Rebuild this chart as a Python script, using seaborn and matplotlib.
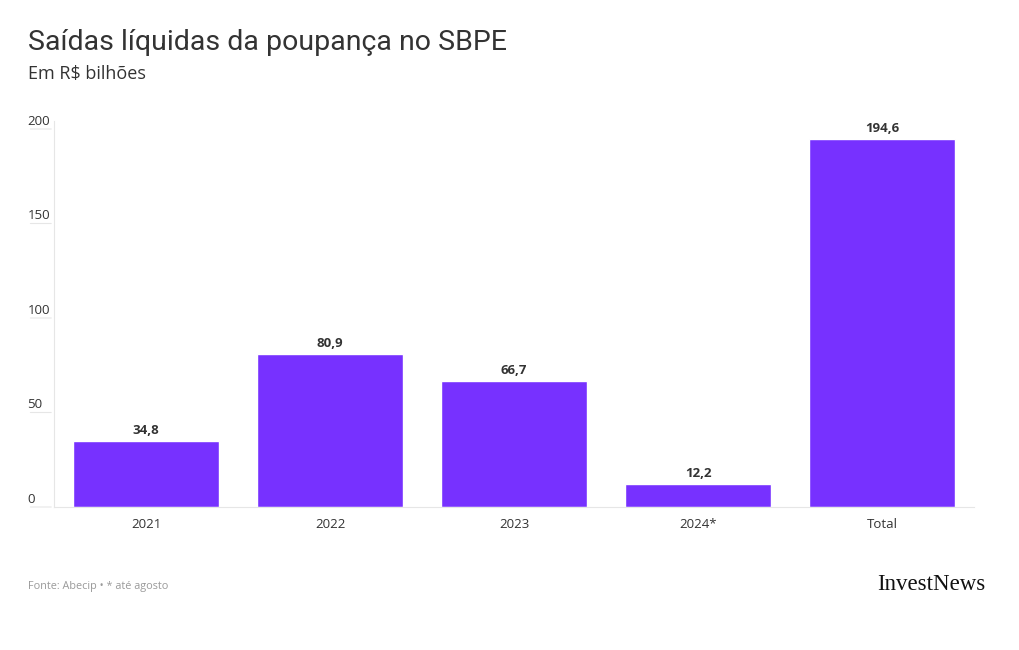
import numpy as np
import pandas as pd
import matplotlib
matplotlib.use("Agg")
import matplotlib.pyplot as plt
import seaborn as sns

# data
categories = ["2021", "2022", "2023", "2024*", "Total"]
values = [34.8, 80.9, 66.7, 12.2, 194.6]
value_labels = ["34,8", "80,9", "66,7", "12,2", "194,6"]
y_ticks = [0, 50, 100, 150, 200]

BAR = "#7731FF"
TEXT = "#333333"
GRID = "#e6e6e6"


def main():
    sns.set_theme(style="white")
    plt.rcParams["font.family"] = ["Open Sans", "DejaVu Sans"]

    df = pd.DataFrame({"cat": categories, "val": values})

    fig = plt.figure(figsize=(10.2, 6.5), dpi=100)
    ax = fig.add_axes([54 / 1020, 1 - 507 / 650, 920 / 1020, 378 / 650])

    sns.barplot(data=df, x="cat", y="val", color=BAR, saturation=1,
                width=0.795, ax=ax)

    ax.set_xlim(-0.5, 4.5)
    ax.set_ylim(0, 200)
    ax.set_xlabel("")
    ax.set_ylabel("")

    # spines: only a faint left line and baseline
    for s in ["top", "right"]:
        ax.spines[s].set_visible(False)
    ax.spines["left"].set_color(GRID)
    ax.spines["bottom"].set_color(GRID)
    ax.spines["left"].set_linewidth(0.8)
    ax.spines["bottom"].set_linewidth(0.8)
    ax.spines["left"].set_bounds(0, 204)

    # y tick labels sit above short faint lines left of the axis
    ax.set_yticks([])
    for t in y_ticks:
        ax.annotate(str(t), xy=(0, t), xycoords=("axes fraction", "data"),
                    xytext=(-19, 1), textcoords="offset points",
                    ha="left", va="bottom", fontsize=9.5, color=TEXT)
        ax.annotate("", xy=(0, t), xycoords=("axes fraction", "data"),
                    xytext=(-19, 0), textcoords="offset points",
                    arrowprops=dict(arrowstyle="-", color=GRID, lw=0.8))

    ax.tick_params(axis="x", length=0, pad=8, labelsize=9.5, labelcolor=TEXT)

    for i, (v, lab) in enumerate(zip(values, value_labels)):
        ax.annotate(lab, xy=(i, v), xytext=(0, 3), textcoords="offset points",
                    ha="center", va="bottom", fontsize=9.5, fontweight="bold",
                    color=TEXT)

    fig.text(28 / 1020, 1 - 43 / 650, "Saídas líquidas da poupança no SBPE",
             fontsize=20.5, color=TEXT, va="center", ha="left",
             family=["Roboto", "DejaVu Sans"])
    fig.text(28 / 1020, 1 - 74 / 650, "Em R$ bilhões",
             fontsize=13, color=TEXT, va="center", ha="left")
    fig.text(28 / 1020, 1 - 586 / 650, "Fonte: Abecip • * até agosto",
             fontsize=7.8, color="#9a9a9a", va="center", ha="left")
    fig.text(985 / 1020, 1 - 585 / 650, "InvestNews",
             fontsize=16.5, color="#111111", va="center", ha="right",
             family=["Liberation Serif", "DejaVu Serif"])

    fig.savefig("out.png", dpi=100, facecolor="white")


if __name__ == "__main__":
    main()
